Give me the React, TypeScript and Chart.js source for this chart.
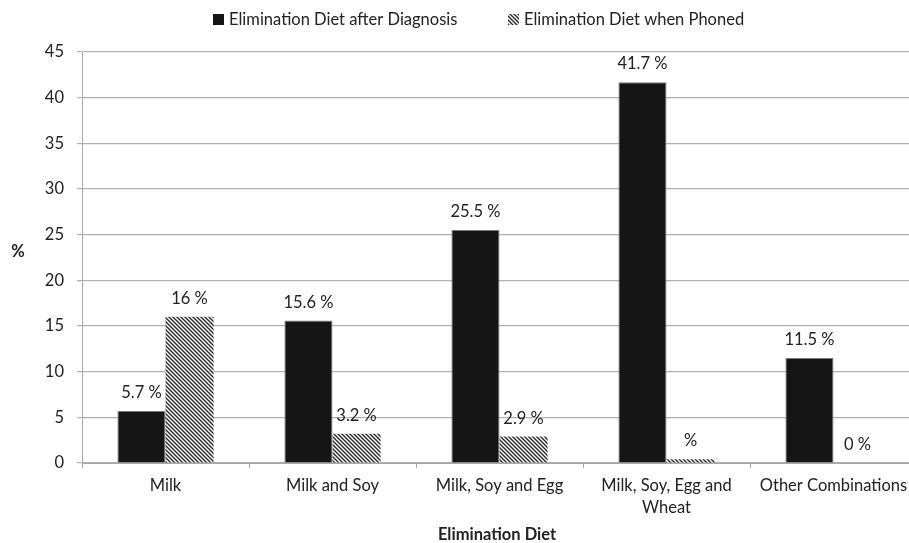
import React, { useEffect, useRef } from "react";
import { Chart, registerables } from "chart.js";

Chart.register(...registerables);

const categories: (string | string[])[] = [
  "Milk",
  "Milk and Soy",
  "Milk, Soy and Egg",
  ["Milk, Soy, Egg and", "Wheat"],
  "Other Combinations",
];
const afterDiagnosis = [5.7, 15.6, 25.5, 41.7, 11.5];
const whenPhoned = [16, 3.2, 2.9, 0.4, 0];
const afterDiagnosisLabels = ["5.7 %", "15.6 %", "25.5 %", "41.7 %", "11.5 %"];
const whenPhonedLabels = ["16 %", "3.2 %", "2.9 %", "%", "0 %"];
const seriesNames = ["Elimination Diet after Diagnosis", "Elimination Diet when Phoned"];
const yTicks = [0, 5, 10, 15, 20, 25, 30, 35, 40, 45];

const FONT = "Lato, 'Open Sans', sans-serif";
const FS = 16.5;

function makeHatch(): CanvasPattern | string {
  const c = document.createElement("canvas");
  c.width = 4;
  c.height = 4;
  const g = c.getContext("2d");
  if (!g) return "#555";
  g.fillStyle = "#ffffff";
  g.fillRect(0, 0, 4, 4);
  g.strokeStyle = "#2a2a2a";
  g.lineWidth = 1.4;
  g.beginPath();
  g.moveTo(-1, -1);
  g.lineTo(5, 5);
  g.moveTo(-1, 3);
  g.lineTo(1, 5);
  g.moveTo(3, -1);
  g.lineTo(5, 1);
  g.stroke();
  const p = g.createPattern(c, "repeat");
  return p || "#555";
}

export default function App() {
  const ref = useRef<HTMLCanvasElement | null>(null);

  useEffect(() => {
    if (!ref.current) return;
    const hatch = makeHatch();
    const labelsBySeries = [afterDiagnosisLabels, whenPhonedLabels];

    const customPlugin = {
      id: "custom",
      afterDatasetsDraw(chart: any) {
        const ctx = chart.ctx;
        ctx.save();
        ctx.fillStyle = "#222";
        ctx.font = `${FS}px ${FONT}`;
        ctx.textAlign = "center";
        ctx.textBaseline = "alphabetic";
        chart.data.datasets.forEach((_: any, di: number) => {
          const meta = chart.getDatasetMeta(di);
          meta.data.forEach((bar: any, i: number) => {
            ctx.fillText(labelsBySeries[di][i], bar.x, bar.y - 13);
          });
        });
        // axis titles
        ctx.font = `bold ${FS}px ${FONT}`;
        ctx.fillStyle = "#222";
        ctx.textBaseline = "middle";
        ctx.fillText("%", 18, 252);
        ctx.fillText("Elimination Diet", 497, 535);
        // legend
        ctx.font = `${FS}px ${FONT}`;
        ctx.textAlign = "left";
        const y = 20;
        ctx.fillStyle = "#151515";
        ctx.fillRect(213, y - 6, 11, 11);
        ctx.fillStyle = "#222";
        ctx.fillText(seriesNames[0], 229, y);
        ctx.fillStyle = hatch as any;
        ctx.fillRect(508, y - 6, 11, 11);
        ctx.fillStyle = "#222";
        ctx.fillText(seriesNames[1], 524, y);
        ctx.restore();
      },
    };

    const chart = new Chart(ref.current, {
      type: "bar",
      data: {
        labels: categories,
        datasets: [
          {
            label: seriesNames[0],
            data: afterDiagnosis,
            backgroundColor: "#151515",
            borderColor: "#7a7a7a",
            borderWidth: 1,
            barPercentage: 1,
            categoryPercentage: 0.576,
          },
          {
            label: seriesNames[1],
            data: whenPhoned,
            backgroundColor: hatch as any,
            borderColor: "#9a9a9a",
            borderWidth: 0,
            barPercentage: 1,
            categoryPercentage: 0.576,
          },
        ],
      },
      options: {
        responsive: false,
        animation: false,
        devicePixelRatio: 1,
        layout: { padding: { top: 52, right: 1, left: 0, bottom: 0 } },
        plugins: {
          legend: { display: false },
          tooltip: { enabled: false },
          title: { display: false },
        },
        scales: {
          x: {
            offset: true,
            afterFit: (s: any) => {
              s.height = 80;
            },
            grid: {
              offset: true,
              drawOnChartArea: false,
              drawTicks: true,
              tickLength: 5,
              color: "#a8a8a8",
            },
            border: { color: "#a8a8a8", width: 1 },
            ticks: {
              color: "#222",
              font: { family: FONT, size: FS, lineHeight: 1.3 },
              padding: 7,
              maxRotation: 0,
              minRotation: 0,
              autoSkip: false,
            },
          },
          y: {
            min: 0,
            max: 45,
            afterFit: (s: any) => {
              s.width = 82;
            },
            afterBuildTicks: (s: any) => {
              s.ticks = yTicks.map((v) => ({ value: v }));
            },
            grid: {
              color: "#b0b0b0",
              lineWidth: 1.2,
              tickLength: 5,
              drawTicks: true,
            },
            border: { color: "#a8a8a8", width: 1 },
            ticks: {
              color: "#222",
              font: { family: FONT, size: FS },
              padding: 13,
            },
          },
        },
      },
      plugins: [customPlugin],
    });
    return () => chart.destroy();
  }, []);

  return (
    <div
      style={{
        position: "fixed",
        left: 0,
        top: 0,
        width: 909,
        height: 543,
        overflow: "hidden",
        background: "#fff",
      }}
    >
      <canvas ref={ref} width={918} height={543} style={{ width: 918, height: 543, display: "block" }} />
    </div>
  );
}
